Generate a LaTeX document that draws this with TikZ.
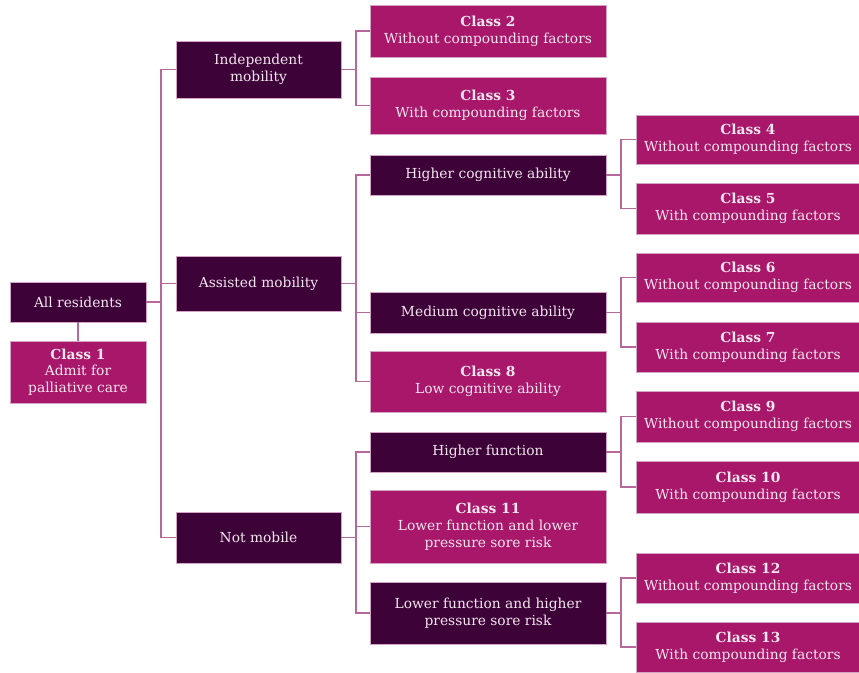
\documentclass[tikz,border=0pt]{standalone}
\usepackage{fontspec}
\setmainfont{DejaVu Serif}
\definecolor{darkbox}{HTML}{3D0339}
\definecolor{magbox}{HTML}{A8176A}
\definecolor{txt}{HTML}{F3E6EE}
\definecolor{conn}{HTML}{B8679C}
\begin{document}
\begin{tikzpicture}[x=1pt,y=-1pt,
  box/.style={rectangle, inner sep=0pt, align=center, text=txt, font=\fontsize{13.8}{16.8}\selectfont, draw=conn!60!white, line width=0.4pt},
  dbox/.style={box, fill=darkbox},
  mbox/.style={box, fill=magbox},
  wire/.style={draw=conn, line width=1.5pt}]
\useasboundingbox (0,0) rectangle (859,672);
% level 0
\node[dbox, minimum width=136pt, minimum height=40pt] (all) at (78,302) {All residents};
\node[mbox, minimum width=136pt, minimum height=62pt] (c1) at (78,372) {\textbf{Class 1}\\Admit for\\palliative care};
% level 1
\node[dbox, minimum width=165pt, minimum height=57pt] (ind) at (258.5,69.5) {Independent\\mobility};
\node[dbox, minimum width=165pt, minimum height=55pt] (ass) at (258.5,283.5) {Assisted mobility};
\node[dbox, minimum width=165pt, minimum height=51pt] (not) at (258.5,537.5) {Not mobile};
% level 2
\node[mbox, minimum width=236pt, minimum height=52pt] (c2) at (488,31) {\textbf{Class 2}\\Without compounding factors};
\node[mbox, minimum width=236pt, minimum height=57pt] (c3) at (488,105.5) {\textbf{Class 3}\\With compounding factors};
\node[dbox, minimum width=236pt, minimum height=40pt] (hca) at (488,175) {Higher cognitive ability};
\node[dbox, minimum width=236pt, minimum height=41pt] (mca) at (488,312.5) {Medium cognitive ability};
\node[mbox, minimum width=236pt, minimum height=61pt] (c8) at (488,381.5) {\textbf{Class 8}\\Low cognitive ability};
\node[dbox, minimum width=236pt, minimum height=40pt] (hf) at (488,452) {Higher function};
\node[mbox, minimum width=236pt, minimum height=73pt] (c11) at (488,526.5) {\textbf{Class 11}\\Lower function and lower\\pressure sore risk};
\node[dbox, minimum width=236pt, minimum height=62pt] (lfh) at (488,613) {Lower function and higher\\pressure sore risk};
% level 3
\node[mbox, minimum width=224pt, minimum height=49pt] (c4) at (748,139.5) {\textbf{Class 4}\\Without compounding factors};
\node[mbox, minimum width=224pt, minimum height=51pt] (c5) at (748,208.5) {\textbf{Class 5}\\With compounding factors};
\node[mbox, minimum width=224pt, minimum height=49pt] (c6) at (748,277.5) {\textbf{Class 6}\\Without compounding factors};
\node[mbox, minimum width=224pt, minimum height=50pt] (c7) at (748,347) {\textbf{Class 7}\\With compounding factors};
\node[mbox, minimum width=224pt, minimum height=51pt] (c9) at (748,416.5) {\textbf{Class 9}\\Without compounding factors};
\node[mbox, minimum width=224pt, minimum height=52pt] (c10) at (748,487) {\textbf{Class 10}\\With compounding factors};
\node[mbox, minimum width=224pt, minimum height=50pt] (c12) at (748,578) {\textbf{Class 12}\\Without compounding factors};
\node[mbox, minimum width=224pt, minimum height=50pt] (c13) at (748,647) {\textbf{Class 13}\\With compounding factors};
% connectors
\draw[wire] (all.south) -- (c1.north);
\foreach \c in {ind,ass,not} \draw[wire] (all.east) -- ++(15,0) |- (\c.west);
\foreach \c in {c2,c3} \draw[wire] (ind.east) -- ++(15,0) |- (\c.west);
\foreach \c in {hca,mca,c8} \draw[wire] (ass.east) -- ++(15,0) |- (\c.west);
\foreach \c in {hf,c11,lfh} \draw[wire] (not.east) -- ++(15,0) |- (\c.west);
\foreach \c in {c4,c5} \draw[wire] (hca.east) -- ++(15,0) |- (\c.west);
\foreach \c in {c6,c7} \draw[wire] (mca.east) -- ++(15,0) |- (\c.west);
\foreach \c in {c9,c10} \draw[wire] (hf.east) -- ++(15,0) |- (\c.west);
\foreach \c in {c12,c13} \draw[wire] (lfh.east) -- ++(15,0) |- (\c.west);
\end{tikzpicture}
\end{document}
